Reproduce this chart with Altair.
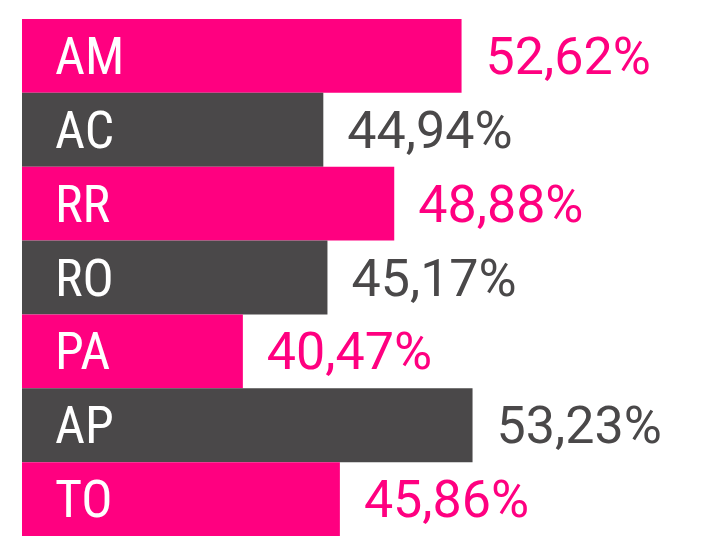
import altair as alt
import pandas as pd

states = ["AM", "AC", "RR", "RO", "PA", "AP", "TO"]
values = [52.62, 44.94, 48.88, 45.17, 40.47, 53.23, 45.86]
labels = ["52,62%", "44,94%", "48,88%", "45,17%", "40,47%", "53,23%", "45,86%"]
groups = ["pink", "gray", "pink", "gray", "pink", "gray", "pink"]

X_MIN = 28.2
W = 660
H = 517
x_max = X_MIN + W / 18.0

df = pd.DataFrame({"state": states, "value": values, "label": labels, "group": groups})
df["base"] = X_MIN

color_scale = alt.Scale(domain=["pink", "gray"], range=["#FF0080", "#4A4849"])
xs = alt.Scale(domain=[X_MIN, x_max], zero=False, nice=False)
ys = alt.Scale(paddingInner=0, paddingOuter=0)

base = alt.Chart(df).encode(
    y=alt.Y("state:N", sort=None, scale=ys, axis=None),
)

bars = base.mark_bar().encode(
    x=alt.X("base:Q", scale=xs, axis=None),
    x2="value:Q",
    color=alt.Color("group:N", scale=color_scale, legend=None),
)

names = base.mark_text(
    align="left", baseline="middle", dx=33, dy=2,
    font="Roboto Condensed, Liberation Sans Narrow, DejaVu Sans Condensed, Roboto",
    fontSize=52, fontWeight=400, color="white",
).encode(
    x=alt.X("base:Q", scale=xs, axis=None),
    text="state:N",
)

vals = base.mark_text(
    align="left", baseline="middle", dx=24, dy=2,
    font="Roboto", fontSize=52, fontWeight=400,
).encode(
    x=alt.X("value:Q", scale=xs, axis=None),
    text="label:N",
    color=alt.Color("group:N", scale=color_scale, legend=None),
)

chart = (
    alt.layer(bars, names, vals)
    .properties(width=W, height=H, padding={"left": 14, "top": 11, "right": 0, "bottom": 0})
    .configure_view(stroke=None)
)

chart.save("out.html", embed_options={"renderer": "svg", "actions": False})
